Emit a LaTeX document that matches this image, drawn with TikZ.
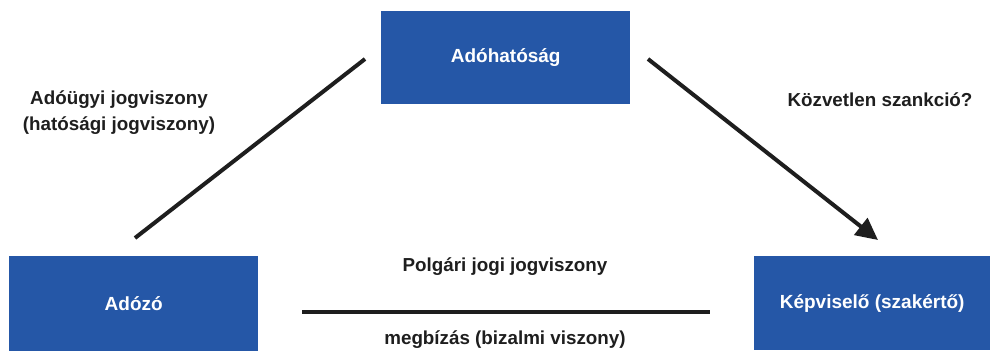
\documentclass[tikz,border=0pt]{standalone}
\usepackage{fontspec}
\setmainfont{Liberation Sans}
\usetikzlibrary{arrows.meta}
\definecolor{boxblue}{RGB}{37,87,167}
\definecolor{ink}{RGB}{30,30,30}
\begin{document}
\begin{tikzpicture}[x=1pt,y=-1pt,
  box/.style={fill=boxblue, draw=none, text=white, font=\bfseries\fontsize{19}{22}\selectfont, inner sep=0pt, anchor=north west},
  lbl/.style={font=\bfseries\fontsize{18.8}{26}\selectfont, align=center, text=ink},
  link/.style={line width=4pt, draw=ink}]
\useasboundingbox (0,0) rectangle (990,351);
\node[box, minimum width=249pt, minimum height=93pt] (hat) at (381,11) {Adóhatóság};
\node[box, minimum width=249pt, minimum height=95pt] (adozo) at (9,256) {Adózó};
\node[box, minimum width=236pt, minimum height=94pt] (kep) at (754,256) {Képviselő (szakértő)};
\coordinate (l1) at (135,238);
\coordinate (l2) at (365,59);
\coordinate (r1) at (648,59);
\coordinate (r2) at (878,240);
\coordinate (h1) at (302,312);
\coordinate (h2) at (710,312);
\draw[link] (l1) -- (l2);
\draw[link, -{Triangle[length=22pt,width=21pt]}] (r1) -- (r2);
\draw[link] (h1) -- (h2);
\node[lbl] (t1) at (119,113) {Adóügyi jogviszony\\(hatósági jogviszony)};
\node[lbl] (t2) at (880,100) {Közvetlen szankció?};
\node[lbl] (t3) at (505,267) {Polgári jogi jogviszony};
\node[lbl] (t4) at (505,340) {megbízás (bizalmi viszony)};
\end{tikzpicture}
\end{document}
